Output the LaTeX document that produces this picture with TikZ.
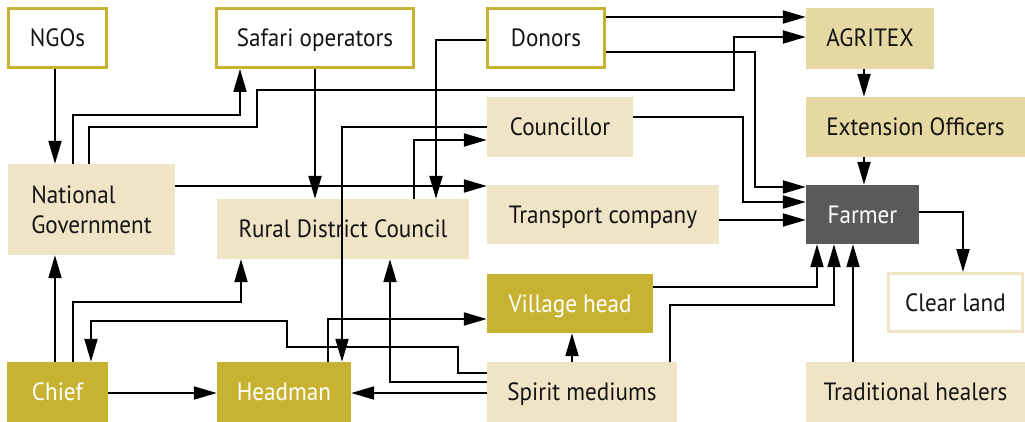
\documentclass[tikz,border=0pt]{standalone}
\usepackage{fontspec}
\setmainfont{PT Sans}[FakeStretch=0.925]
\usetikzlibrary{arrows.meta}
\definecolor{gold}{RGB}{200,178,50}
\definecolor{paletan}{RGB}{240,228,198}
\definecolor{sandtan}{RGB}{230,216,162}
\definecolor{farmgrey}{RGB}{90,90,90}
\tikzset{
  box/.style={inner sep=0pt, font=\fontsize{25}{30}\selectfont, text=black!92,
    text height=17pt, text depth=0pt},
  linebox/.style={box, draw=gold, line width=3pt, fill=white},
  palebox/.style={box, fill=paletan},
  sandbox/.style={box, fill=sandtan},
  goldbox/.style={box, fill=gold, text=white},
  darkbox/.style={box, fill=farmgrey, text=white},
  clearbox/.style={box, draw=paletan, line width=3pt, fill=white},
  link/.style={draw, line width=2pt, -{Triangle[length=23pt,width=13pt]}}
}
\begin{document}
\begin{tikzpicture}[x=1pt,y=-1pt]
  \useasboundingbox (0,0) rectangle (1025,422);
  \node[linebox, minimum width=98pt, minimum height=59pt] (ngos) at (57.5,38) {NGOs};
  \node[linebox, minimum width=197pt, minimum height=59pt] (safari) at (315,38) {Safari operators};
  \node[linebox, minimum width=117pt, minimum height=59pt] (donors) at (546,38) {Donors};
  \node[sandbox, minimum width=128pt, minimum height=61pt] (agritex) at (870,38.5) {AGRITEX};
  \node[sandbox, minimum width=219pt, minimum height=60pt] (extension) at (915.5,127) {Extension Officers};
  \node[palebox, minimum width=146pt, minimum height=60pt] (councillor) at (560,127) {Councillor};
  \node[palebox, minimum width=167pt, minimum height=91pt, align=left, text height={}, text depth={}] (natgov) at (91.5,209.5) {National\\Government};
  \node[palebox, minimum width=252pt, minimum height=60pt] (rdc) at (343,229) {Rural District Council};
  \node[palebox, minimum width=232pt, minimum height=59pt] (transport) at (603,214.5) {Transport company};
  \node[darkbox, minimum width=113pt, minimum height=59pt] (farmer) at (862.5,214.5) {Farmer};
  \node[goldbox, minimum width=166pt, minimum height=59pt] (village) at (570,303.5) {Village head};
  \node[clearbox, minimum width=134pt, minimum height=58pt] (clearland) at (955.5,302.5) {Clear land};
  \node[goldbox, minimum width=101pt, minimum height=60pt] (chief) at (57.5,392) {Chief};
  \node[goldbox, minimum width=134pt, minimum height=60pt] (headman) at (284,392) {Headman};
  \node[palebox, minimum width=190pt, minimum height=60pt] (spirit) at (582,392) {Spirit mediums};
  \node[palebox, minimum width=219pt, minimum height=60pt] (healers) at (915.5,392) {Traditional healers};

  \draw[link] (ngos.south -| 55,0) -- (natgov.north -| 55,0);
  \draw[link] (natgov.north -| 73,0) |- (240,115) -- (safari.south -| 240,0);
  \draw[link] (natgov.north -| 89,0) |- (257,127) |- (734,90) |- (agritex.west |- 0,37);
  \draw[link] (safari.south) -- (safari.south |- rdc.north);
  \draw[link] (donors.west |- 0,40) -| (rdc.north -| 436,0);
  \draw[link] (donors.east |- 0,17) -- (agritex.west |- 0,17);
  \draw[link] (donors.east |- 0,52) -| (755,187) -- (farmer.west |- 0,187);
  \draw[link] (councillor.east |- 0,117) -| (743,202) -- (farmer.west |- 0,202);
  \draw[link] (transport.east |- 0,220) -- (farmer.west |- 0,220);
  \draw[link] (natgov.east |- 0,186) -- (transport.west |- 0,186);
  \draw[link] (rdc.north -| 414,0) |- (councillor.west |- 0,140);
  \draw[link] (councillor.west |- 0,127) -| (headman.north -| 342,0);
  \draw[link] (headman.north -| 328,0) |- (village.west |- 0,319);
  \draw[link] (spirit.west |- 0,373) -| (458,347) -| (287,321) -| (chief.north -| 91,0);
  \draw[link] (spirit.west |- 0,382) -| (rdc.south -| 390,0);
  \draw[link] (spirit.west |- 0,393) -- (headman.east |- 0,393);
  \draw[link] (spirit.north -| 572,0) -- (village.south -| 572,0);
  \draw[link] (spirit.north -| 670,0) |- (834,305) -- (farmer.south -| 834,0);
  \draw[link] (village.east |- 0,287) -| (farmer.south -| 817,0);
  \draw[link] (healers.north -| 853,0) -- (farmer.south -| 853,0);
  \draw[link] (chief.north -| 55,0) -- (natgov.south -| 55,0);
  \draw[link] (chief.north -| 73,0) |- (241,302) -- (rdc.south -| 241,0);
  \draw[link] (chief.east |- 0,393) -- (headman.west |- 0,393);
  \draw[link] (agritex.south -| 864,0) -- (extension.north -| 864,0);
  \draw[link] (extension.south -| 864,0) -- (farmer.north -| 864,0);
  \draw[link] (farmer.east |- 0,212) -| (clearland.north -| 963,0);
\end{tikzpicture}
\end{document}
